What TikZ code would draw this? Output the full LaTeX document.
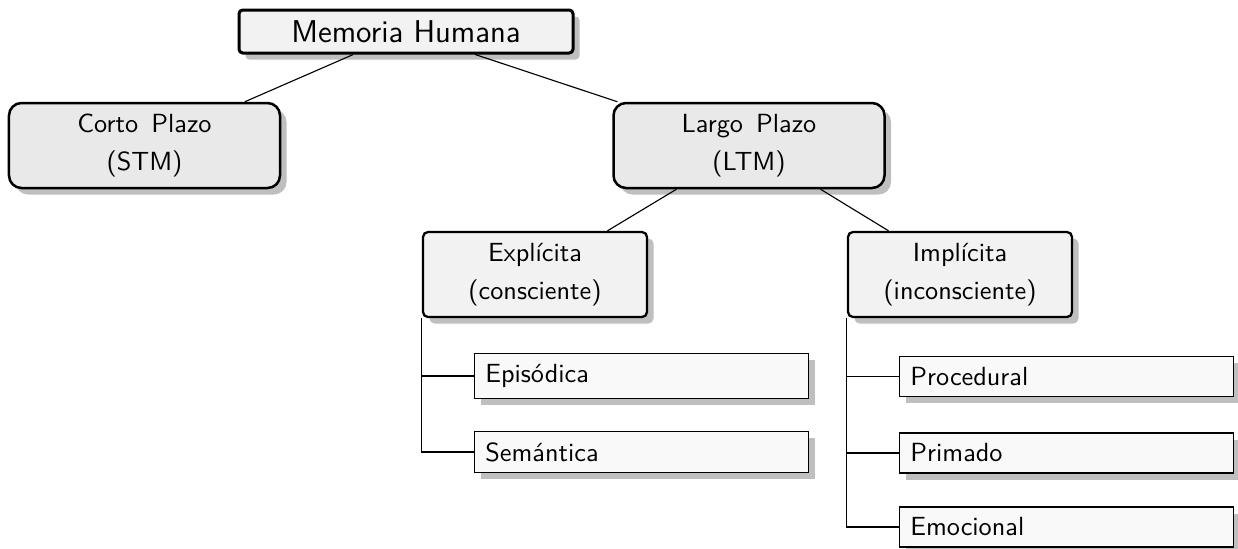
\documentclass[tikz,border=0pt]{standalone}
\usetikzlibrary{shadows}
\begin{document}
\begin{tikzpicture}[x=0.4pt,y=-0.4pt,
  every node/.style={font=\sffamily\fontsize{10.5}{15}\selectfont},
  shad/.style={drop shadow={shadow xshift=2.6pt,shadow yshift=-2.6pt,fill=black!25,opacity=1}},
  rootbox/.style={shad,draw,line width=1.2pt,rounded corners=1.5pt,fill=gray!10,
    minimum width=133.6pt,minimum height=17.2pt,inner sep=0pt,font=\sffamily\fontsize{12.6}{15}\selectfont},
  midbox/.style={shad,draw,line width=1pt,rounded corners=5pt,fill=gray!17,
    minimum width=108.4pt,minimum height=34pt,inner sep=0pt,align=center,
    font=\sffamily\fontsize{10.5}{15.2}\selectfont},
  subbox/.style={shad,draw,line width=0.9pt,rounded corners=2pt,fill=gray!10,
    minimum width=89.6pt,minimum height=34pt,inner sep=0pt,align=center,
    font=\sffamily\fontsize{10.5}{15}\selectfont},
  leafbox/.style={shad,draw,line width=0.5pt,fill=gray!5,anchor=west,
    text width=125pt,align=left,inner xsep=4.3pt,inner ysep=4.3pt},
  conn/.style={line width=0.45pt}]
\useasboundingbox (0,0) rectangle (1238,548);
\node[rootbox] (mem) at (406,31.5) {Memoria Humana};
\node[midbox] (corto) at (144.5,145.5) {Corto\enspace Plazo\\(STM)};
\node[midbox] (largo) at (749,145.5) {Largo\enspace Plazo\\(LTM)};
\node[subbox] (expl) at (535,274.5) {Explícita\\(consciente)};
\node[subbox] (impl) at (960,274.5) {Implícita\\(inconsciente)};
\node[leafbox] (epi) at (474,376) {Episódica};
\node[leafbox] (sem) at (474,452) {Semántica};
\node[leafbox] (proc) at (899,376.5) {Procedural};
\node[leafbox] (prim) at (899,453) {Primado};
\node[leafbox] (emo) at (899,527) {Emocional};
\draw[conn] (mem) -- (corto);
\draw[conn] (mem) -- (largo);
\draw[conn] (largo) -- (expl);
\draw[conn] (largo) -- (impl);
\draw[conn] (expl.south west) |- (epi.west);
\draw[conn] (expl.south west) |- (sem.west);
\draw[conn] (impl.south west) |- (proc.west);
\draw[conn] (impl.south west) |- (prim.west);
\draw[conn] (impl.south west) |- (emo.west);
\end{tikzpicture}
\end{document}
